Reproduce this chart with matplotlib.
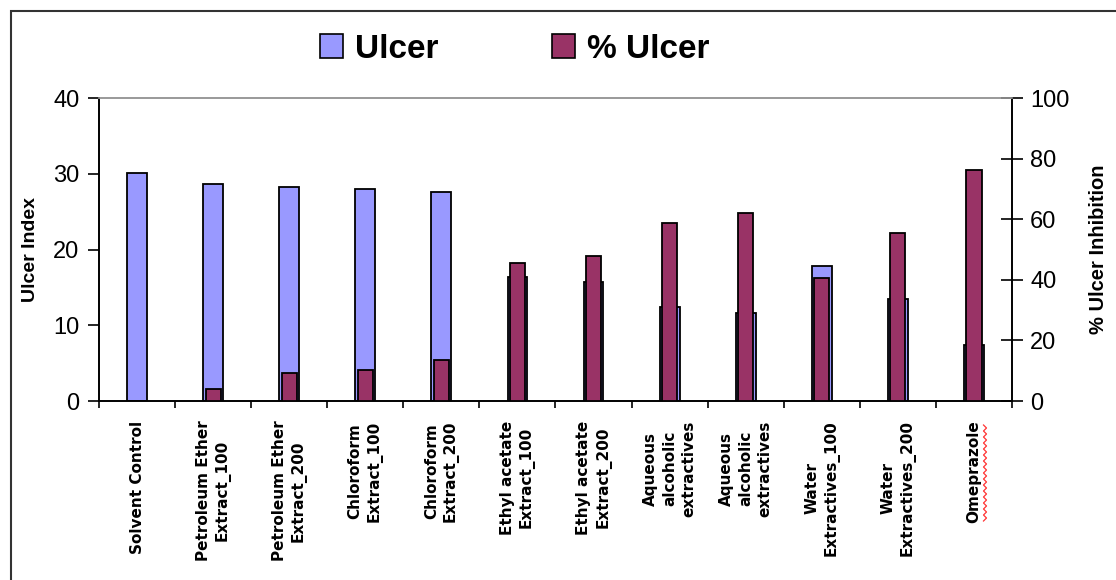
import numpy as np
import matplotlib
matplotlib.use("Agg")
from matplotlib import pyplot as plt
from matplotlib.patches import Patch, Rectangle
from matplotlib.lines import Line2D

categories = [
    "Solvent Control",
    "Petroleum Ether\nExtract_100",
    "Petroleum Ether\nExtract_200",
    "Chloroform\nExtract_100",
    "Chloroform\nExtract_200",
    "Ethyl acetate\nExtract_100",
    "Ethyl acetate\nExtract_200",
    "Aqueous\nalcoholic\nextractives",
    "Aqueous\nalcoholic\nextractives",
    "Water\nExtractives_100",
    "Water\nExtractives_200",
    "Omeprazole",
]
ulcer_index = [30.1, 28.7, 28.2, 28.0, 27.6, 16.4, 15.7, 12.4, 11.6, 17.8, 13.5, 7.4]
ulcer_pct = [0, 3.9, 9.3, 10.2, 13.6, 45.4, 47.8, 58.9, 62.2, 40.5, 55.5, 76.2]

blue = "#9999FF"
maroon = "#993366"

plt.rcParams["font.family"] = ["Liberation Sans", "DejaVu Sans"]

W, H = 1116, 580
fig = plt.figure(figsize=(W / 100, H / 100), dpi=100)
ax = fig.add_axes([0.0887, 0.3086, 0.9068 - 0.0887, 0.831 - 0.3086])
ax2 = ax.twinx()

x = np.arange(len(categories))
ax.bar(x, ulcer_index, width=0.26, color=blue, edgecolor="black", linewidth=1.3, zorder=2)
ax2.bar(x, ulcer_pct, width=0.2, color=maroon, edgecolor="black", linewidth=1.3, zorder=3)

ax.set_xlim(-0.5, len(categories) - 0.5)
ax.set_ylim(0, 40)
ax2.set_ylim(0, 100)
ax.set_yticks([0, 10, 20, 30, 40])
ax2.set_yticks([0, 20, 40, 60, 80, 100])

ax.set_xticks(x)
ax.set_xticklabels(categories, rotation=90, fontsize=11, fontweight="bold",
                   family="DejaVu Sans", va="top", ha="center",
                   multialignment="center", linespacing=1.35)
ax.tick_params(axis="x", which="major", length=0, pad=14)
ax.set_xticks(np.arange(len(categories) + 1) - 0.5, minor=True)
ax.tick_params(axis="x", which="minor", length=5, width=1.2, direction="out")

ax.tick_params(axis="y", labelsize=17, length=8, width=1.2, direction="out", pad=6)
ax2.tick_params(axis="y", labelsize=17, length=16, width=1.2, direction="inout", pad=5)

ax.set_ylabel("Ulcer Index", fontsize=14, fontweight="bold", labelpad=10)
ax2.set_ylabel("% Ulcer Inhibition", fontsize=14.5, fontweight="bold", labelpad=14)

for a in (ax, ax2):
    a.spines["top"].set_color("#999999")
    a.spines["top"].set_linewidth(1.2)
    a.spines["left"].set_linewidth(1.2)
    a.spines["right"].set_linewidth(1.2)
    a.spines["bottom"].set_linewidth(1.2)
ax.set_zorder(1)
ax2.set_zorder(2)
ax2.patch.set_visible(False)

handles = [Patch(facecolor=blue, edgecolor="black", linewidth=1.2),
           Patch(facecolor=maroon, edgecolor="black", linewidth=1.2)]
leg = fig.legend(handles, ["Ulcer", "% Ulcer"], loc="center", bbox_to_anchor=(0.461, 0.915),
                 ncol=2, frameon=False, prop={"size": 24, "weight": "bold"},
                 handlelength=0.7, handleheight=0.7, handletextpad=0.35, columnspacing=3.4)

# page frame
fig.patches.append(Rectangle((11 / W, -0.5), 2, 0.5 + 1 - 11 / H,
                             transform=fig.transFigure, fill=False,
                             edgecolor="#333333", linewidth=1.5))

# spell-check squiggle beside "Omeprazole"
sq_y = np.arange(425, 524, 3)
sq_x = np.where(np.arange(len(sq_y)) % 2 == 0, 983.5, 986.5)
fig.lines.append(Line2D(sq_x / W, 1 - sq_y / H, transform=fig.transFigure,
                        color="#FF3333", linewidth=0.9))

fig.savefig("out.png", dpi=100)
